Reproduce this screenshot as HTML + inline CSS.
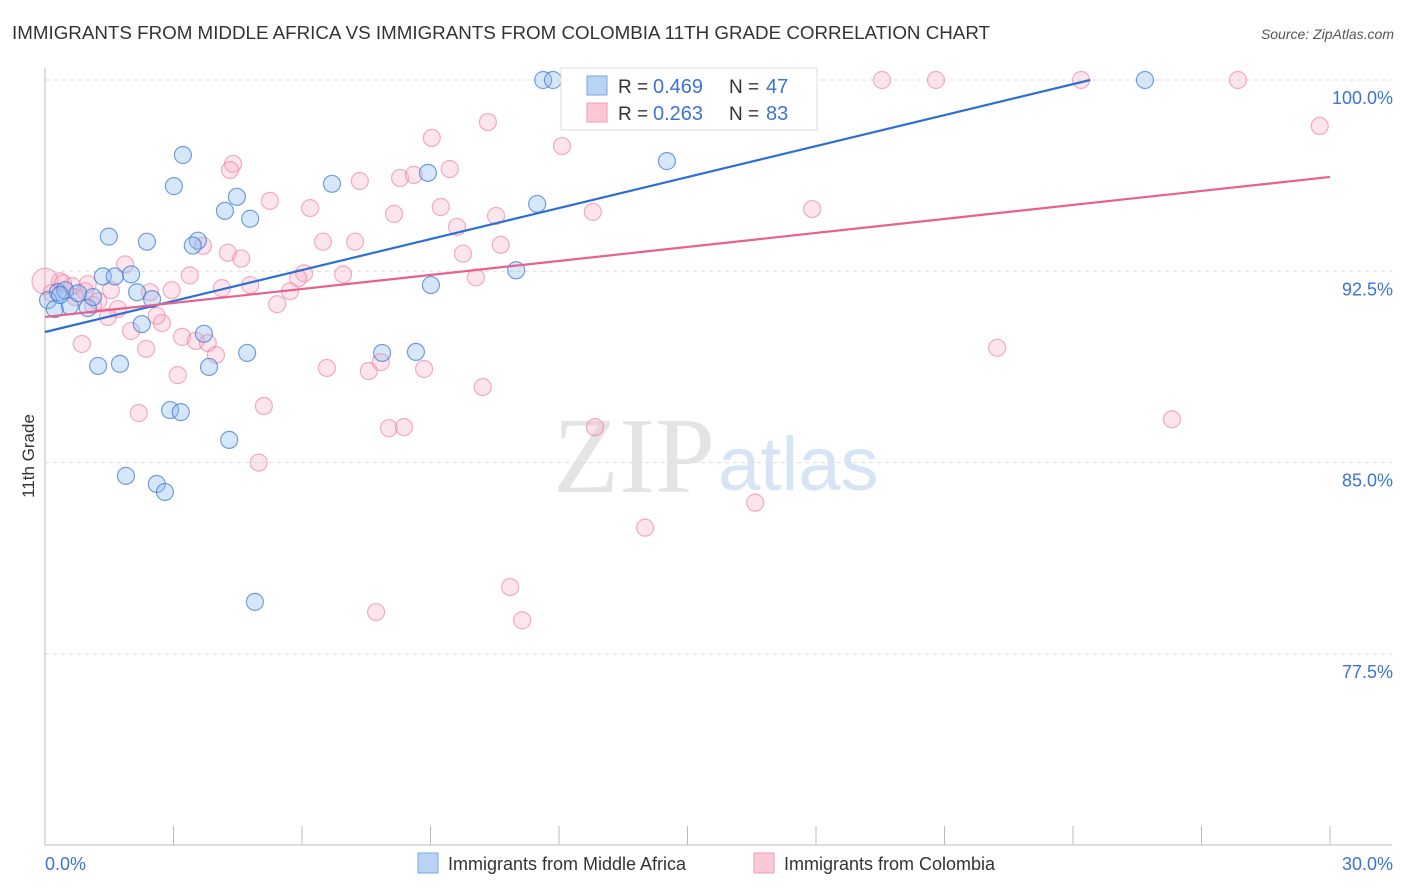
<!DOCTYPE html>
<html><head><meta charset="utf-8"><style>
body{margin:0;background:#fff;font-family:"Liberation Sans",sans-serif}
svg{display:block}
</style></head><body>
<svg id="chart" width="1406" height="892">
<text x="12" y="39" font-size="18" textLength="978" lengthAdjust="spacingAndGlyphs" fill="#333">IMMIGRANTS FROM MIDDLE AFRICA VS IMMIGRANTS FROM COLOMBIA 11TH GRADE CORRELATION CHART</text>
<text x="1394" y="39" font-size="14" fill="#555" font-style="italic" text-anchor="end">Source: ZipAtlas.com</text>
<text x="0" y="0" transform="translate(34,456) rotate(-90)" font-size="17" fill="#333" text-anchor="middle">11th Grade</text>
<text x="715" y="492" font-size="108" fill="#e4e4e4" text-anchor="end" font-family="Liberation Serif,serif">ZIP</text>
<text x="718" y="490" font-size="76" fill="#d6e4f5">atlas</text>
<g id="grid"></g><g id="axes"></g><g id="pts"></g><g id="lines"></g>
<g>
<rect x="561" y="68" width="256" height="62" fill="#fff" stroke="#ddd"/>
<rect x="587" y="76" width="20" height="19" fill="#b9d3f4" stroke="#7aa6e0"/>
<rect x="587" y="103" width="20" height="19" fill="#fbc9d6" stroke="#f09ab3"/>
<text x="618" y="93" font-size="19" fill="#333">R =</text>
<text x="653" y="93" font-size="20" fill="#3b74d1">0.469</text>
<text x="729" y="93" font-size="19" fill="#333">N =</text>
<text x="766" y="93" font-size="20" fill="#3b74d1">47</text>
<text x="618" y="120" font-size="19" fill="#333">R =</text>
<text x="653" y="120" font-size="20" fill="#3b74d1">0.263</text>
<text x="729" y="120" font-size="19" fill="#333">N =</text>
<text x="766" y="120" font-size="20" fill="#3b74d1">83</text>
</g>
<g>
<rect x="418" y="853" width="20" height="20" fill="#b9d3f4" stroke="#7aa6e0"/>
<text x="448" y="870" font-size="18" fill="#333">Immigrants from Middle Africa</text>
<rect x="754" y="853" width="20" height="20" fill="#fbc9d6" stroke="#f09ab3"/>
<text x="784" y="870" font-size="18" fill="#333">Immigrants from Colombia</text>
</g>
</svg>
<script>
const yTicks=[100,92.5,85,77.5];
const yTickLabels=["100.0%","92.5%","85.0%","77.5%"];
const xMin=0,xMax=30;
const blueX=[11.63,11.86,25.68,3.22,14.52,3.01,6.70,8.94,4.48,4.20,4.79,11.49,1.49,2.38,3.57,3.45,1.35,1.63,2.01,9.01,11.00,2.15,2.50,0.30,0.07,0.23,0.58,1.00,1.12,0.47,0.77,2.26,1.24,1.75,3.83,4.72,7.87,8.66,2.92,3.17,4.30,1.89,2.61,2.80,4.90,3.71,0.35];
const blueY=[100,100,100,97.06,96.82,95.84,95.93,96.36,95.42,94.87,94.56,95.14,93.86,93.66,93.70,93.51,92.30,92.30,92.38,91.96,92.54,91.68,91.41,91.68,91.37,91.02,91.14,91.06,91.49,91.76,91.64,90.43,88.79,88.87,88.75,89.30,89.30,89.34,87.06,86.98,85.89,84.48,84.16,83.85,79.54,90.05,91.57];
const pinkX=[13.82,19.54,20.80,24.19,27.85,29.76,10.34,9.03,12.07,4.39,9.45,7.35,8.29,8.61,5.25,6.19,8.15,9.24,10.53,12.79,17.91,9.62,6.49,7.24,10.64,3.69,4.27,4.58,9.76,3.38,6.96,6.05,5.91,10.06,4.79,4.13,5.72,5.42,2.96,1.87,1.54,0.35,0.63,1.00,0.70,1.12,1.70,1.47,2.61,2.73,2.01,3.20,3.52,3.80,3.99,2.36,0.86,6.58,7.56,7.84,8.85,3.10,10.22,22.23,2.19,5.11,8.03,8.38,4.99,26.31,14.01,16.58,10.86,7.73,11.14,0.0,1.24,0.16,2.45,4.32,12.84,0.42,0.93];
const pinkY=[100,100,100,100,100,98.20,98.35,97.73,97.41,96.71,96.51,96.04,96.16,96.28,95.26,94.98,94.75,95.02,94.67,94.83,94.94,94.24,93.66,93.66,93.54,93.50,93.23,93.00,93.19,92.34,92.38,92.42,92.22,92.26,91.96,91.84,91.72,91.21,91.76,92.77,91.76,92.11,91.92,92.00,91.49,91.18,91.02,90.71,90.75,90.47,90.16,89.93,89.77,89.69,89.22,89.46,89.65,88.71,88.59,88.94,88.67,88.43,87.96,89.50,86.94,87.22,86.35,86.39,85.00,86.70,82.45,83.43,80.12,79.14,78.82,92.11,91.33,91.65,91.68,96.47,86.39,92.03,91.72];
const blueLineX=[0,24.4], blueLineY=[90.12,100];
const pinkLineX=[0,30], pinkLineY=[90.71,96.2];
const X=v=>45+(v-xMin)/(xMax-xMin)*1285;
const Yf=v=>80+(100-v)/7.5*191.3;
const NS="http://www.w3.org/2000/svg";
function mk(t,a,p){const e=document.createElementNS(NS,t);for(const k in a)e.setAttribute(k,a[k]);p.appendChild(e);return e;}
const grid=document.getElementById('grid'),axes=document.getElementById('axes'),pts=document.getElementById('pts'),lines=document.getElementById('lines');
yTicks.forEach((t,i)=>{
 const g=mk('line',{x1:45,x2:1392,y1:Yf(t),y2:Yf(t),stroke:'#ddd','stroke-dasharray':'4,4'},grid);
 
 
 const l=mk('text',{x:1393,y:Yf(t)+24,'font-size':18,fill:'#3b74d1','text-anchor':'end'},axes);
 l.textContent=yTickLabels[i];
 
 
});
const ax=mk('line',{x1:45,x2:45,y1:68,y2:845,stroke:'#bbb'},axes);


const bx=mk('line',{x1:45,x2:1392,y1:845,y2:845,stroke:'#bbb'},axes);


for(let v=0;v<=30;v+=3){const t=mk('line',{x1:X(v),x2:X(v),y1:826,y2:845,stroke:'#bbb'},axes);
 
 }
const x0=mk('text',{x:45,y:870,'font-size':18,fill:'#3b74d1'},axes);x0.textContent='0.0%';


const x1=mk('text',{x:1393,y:870,'font-size':18,fill:'#3b74d1','text-anchor':'end'},axes);x1.textContent='30.0%';


pinkX.forEach((v,i)=>{const c=mk('circle',{cx:X(v),cy:Yf(pinkY[i]),r:i==75?13:8.5,fill:'rgba(248,170,195,0.3)',stroke:'rgba(236,120,155,0.6)','stroke-width':1.2},pts);
 
 });
blueX.forEach((v,i)=>{const c=mk('circle',{cx:X(v),cy:Yf(blueY[i]),r:8.5,fill:'rgba(140,185,240,0.35)',stroke:'rgba(60,120,210,0.7)','stroke-width':1.2},pts);
 
 });
const bl=mk('line',{x1:X(blueLineX[0]),y1:Yf(blueLineY[0]),x2:X(blueLineX[1]),y2:Yf(blueLineY[1]),stroke:'#2b6fd6','stroke-width':2.2},lines);


const pl=mk('line',{x1:X(pinkLineX[0]),y1:Yf(pinkLineY[0]),x2:X(pinkLineX[1]),y2:Yf(pinkLineY[1]),stroke:'#e8608e','stroke-width':2.2},lines);


</script>
</body></html>
